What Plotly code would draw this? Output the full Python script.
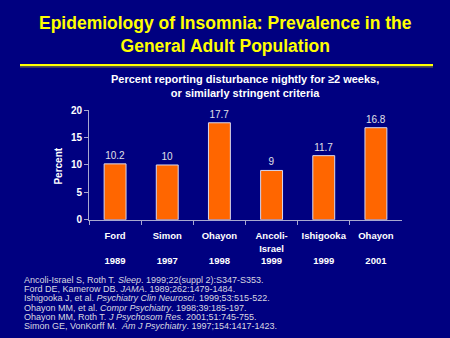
import plotly.graph_objects as go

# Study data
authors = ["Ford", "Simon", "Ohayon", "Ancoli-<br>Israel", "Ishigooka", "Ohayon"]
years = ["1989", "1997", "1998", "1999", "1999", "2001"]
prevalence = [10.2, 10, 17.7, 9, 11.7, 16.8]
value_labels = ["10.2", "10", "17.7", "9", "11.7", "16.8"]
y_ticks = [0, 5, 10, 15, 20]

references = [
    "Ancoli-Israel S, Roth T. <i>Sleep</i>. 1999;22(suppl 2):S347-S353.",
    "Ford DE, Kamerow DB. <i>JAMA</i>. 1989;262:1479-1484.",
    "Ishigooka J, et al. <i>Psychiatry Clin Neurosci</i>. 1999;53:515-522.",
    "Ohayon MM, et al. <i>Compr Psychiatry</i>. 1998;39:185-197.",
    "Ohayon MM, Roth T. <i>J Psychosom Res</i>. 2001;51:745-755.",
    "Simon GE, VonKorff M.  <i>Am J Psychiatry</i>. 1997;154:1417-1423.",
]

W, H = 450, 338
FONT = "Liberation Sans, Arial, sans-serif"
BG = "#000080"
AXIS = "#A8A8D0"


def px_x(x):
    return x / W


def px_y(y):
    return 1 - y / H


def cat_label(name, year):
    lines = name.split("<br>")
    if len(lines) == 1:
        lines.append(" ")
    return "<br>".join(f"<b>{l}</b>" for l in lines) + f"<br><b>{year}</b>"


categories = [cat_label(a, y) for a, y in zip(authors, years)]

fig = go.Figure(
    go.Bar(
        x=categories,
        y=prevalence,
        text=value_labels,
        textposition="outside",
        cliponaxis=False,
        textfont=dict(family=FONT, size=10, color="#E0E0E8"),
        marker=dict(color="#FF6600", line=dict(color="#D8D8F0", width=1)),
    )
)

fig.update_layout(
    width=W,
    height=H,
    margin=dict(l=0, r=0, t=0, b=0),
    paper_bgcolor=BG,
    plot_bgcolor=BG,
    showlegend=False,
    bargap=0.58,
    xaxis=dict(
        domain=[px_x(89), px_x(402)],
        type="category",
        showline=True,
        linecolor=AXIS,
        linewidth=1,
        ticks="outside",
        tickson="boundaries",
        ticklen=4,
        tickcolor=AXIS,
        tickangle=0,
        ticklabelstandoff=7,
        tickfont=dict(family=FONT, size=9.5, color="white"),
        showgrid=False,
        zeroline=False,
    ),
    yaxis=dict(
        domain=[px_y(222), px_y(108.7)],
        range=[0, 20],
        tickvals=y_ticks,
        ticktext=[f"<b>{v}</b>" for v in y_ticks],
        showline=True,
        linecolor=AXIS,
        linewidth=1,
        ticks="outside",
        ticklen=4,
        tickcolor=AXIS,
        tickfont=dict(family=FONT, size=10, color="white"),
        showgrid=False,
        zeroline=False,
    ),
)

annotations = [
    dict(
        text="<b>Epidemiology of Insomnia: Prevalence in the<br>General Adult Population</b>",
        x=px_x(225), y=px_y(31), xanchor="center", yanchor="middle",
        font=dict(family=FONT, size=17.5, color="#FFFF00"),
    ),
    dict(
        text="<b>Percent reporting disturbance nightly for \u22652 weeks,<br>or similarly stringent criteria</b>",
        x=px_x(245), y=px_y(84), xanchor="center", yanchor="middle",
        font=dict(family=FONT, size=11, color="white"),
    ),
    dict(
        text="<b>Percent</b>",
        x=px_x(59), y=px_y(167), xanchor="center", yanchor="middle",
        textangle=-90,
        font=dict(family=FONT, size=10, color="white"),
    ),
]

for i, ref in enumerate(references):
    annotations.append(
        dict(
            text=ref,
            x=px_x(22), y=px_y(284 + i * 9.6), xanchor="left", yanchor="middle",
            font=dict(family=FONT, size=9, color="#D8D8E0"),
        )
    )

for a in annotations:
    a.update(xref="paper", yref="paper", showarrow=False)

fig.update_layout(annotations=annotations)

# Yellow rule under the title with a darker shadow line
fig.add_shape(type="line", xref="paper", yref="paper",
              x0=px_x(20), x1=px_x(433), y0=px_y(62), y1=px_y(62),
              line=dict(color="#FFFF00", width=2))
fig.add_shape(type="line", xref="paper", yref="paper",
              x0=px_x(20), x1=px_x(433), y0=px_y(64), y1=px_y(64),
              line=dict(color="#8A8A30", width=1))

fig.write_html("out.html")
